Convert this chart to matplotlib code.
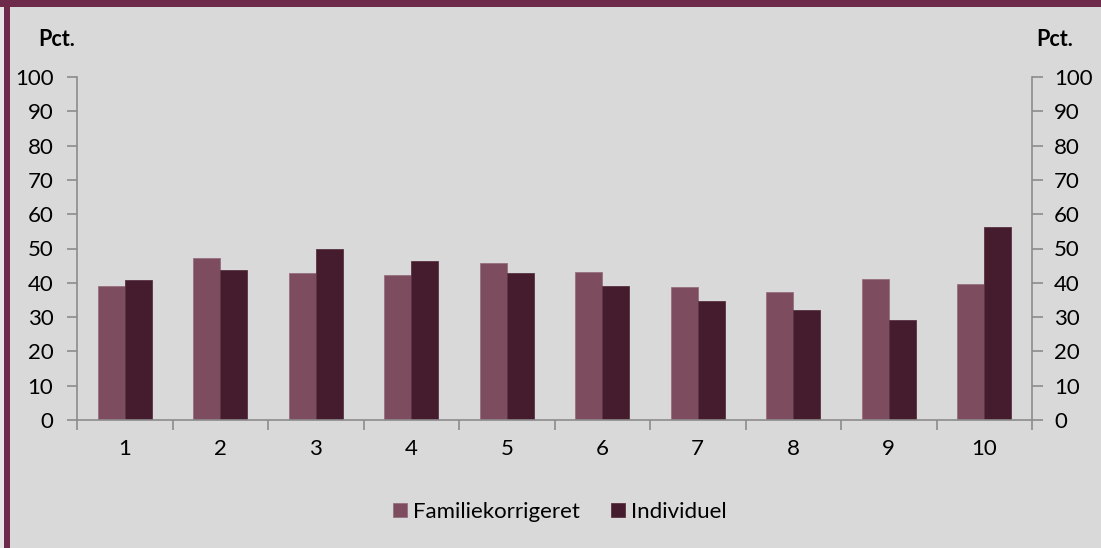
import numpy as np
import matplotlib.pyplot as plt
from matplotlib.patches import Rectangle

# data
deciles = ["1", "2", "3", "4", "5", "6", "7", "8", "9", "10"]
familiekorrigeret = [39.0, 47.3, 42.9, 42.3, 45.8, 43.2, 38.8, 37.3, 41.0, 39.7]
individuel = [40.9, 43.7, 49.9, 46.4, 42.8, 39.2, 34.7, 32.0, 29.1, 56.4]
y_ticks = list(range(0, 101, 10))

LIGHT = "#7E4C5F"
DARK = "#451C2D"
BORDER = "#6E2A4A"
BG = "#D9D9D9"
AXIS = "#8C8C8C"
FS = 16

plt.rcParams["font.family"] = ["Lato", "DejaVu Sans"]

W, H = 1101, 548
fig = plt.figure(figsize=(W / 100, H / 100), dpi=100)
fig.patch.set_facecolor(BG)

# maroon frame on top and left
fig.patches.append(Rectangle((0, 1 - 7 / H), 1, 7 / H, transform=fig.transFigure,
                             facecolor=BORDER, edgecolor="none", zorder=0))
fig.patches.append(Rectangle((4 / W, 0), 6 / W, 1, transform=fig.transFigure,
                             facecolor=BORDER, edgecolor="none", zorder=0))
fig.patches.append(Rectangle((0, 0), 4 / W, 1 - 7 / H, transform=fig.transFigure,
                             facecolor="#E6E6E6", edgecolor="none", zorder=0))

ax = fig.add_axes([77 / W, (H - 420) / H, 955 / W, 343 / H])
ax.set_facecolor(BG)

x = np.arange(1, len(deciles) + 1)
bw = 0.283
ax.bar(x - bw / 2, familiekorrigeret, width=bw, color=LIGHT,
       edgecolor="#96707F", linewidth=0.6, label="Familiekorrigeret", zorder=2)
ax.bar(x + bw / 2, individuel, width=bw, color=DARK,
       edgecolor="#5A3343", linewidth=0.6, label="Individuel", zorder=2)

ax.set_xlim(0.5, len(deciles) + 0.5)
ax.set_ylim(0, 100)
ax.set_yticks(y_ticks)
ax.set_xticks(x)
ax.set_xticklabels(deciles)
ax.set_xticks(np.arange(0.5, len(deciles) + 1), minor=True)

for s in ["top", "right"]:
    ax.spines[s].set_visible(False)
for s in ["left", "bottom"]:
    ax.spines[s].set_color(AXIS)
    ax.spines[s].set_linewidth(1.2)

ax.tick_params(axis="x", which="major", length=0, pad=14, labelsize=FS)
ax.tick_params(axis="x", which="minor", length=7, width=1.2, color=AXIS)
ax.tick_params(axis="y", length=7, width=1.2, color=AXIS, pad=10, labelsize=FS)

ax2 = ax.twinx()
ax2.set_ylim(0, 100)
ax2.set_yticks(y_ticks)
for s in ["top", "left", "bottom"]:
    ax2.spines[s].set_visible(False)
ax2.spines["right"].set_color(AXIS)
ax2.spines["right"].set_linewidth(1.2)
ax2.tick_params(axis="y", length=8, width=1.2, color=AXIS, pad=8, labelsize=FS)

fig.text(38 / W, 1 - 40 / H, "Pct.", fontsize=15.5, fontweight="bold",
         ha="left", va="center")
fig.text(1036 / W, 1 - 40 / H, "Pct.", fontsize=15.5, fontweight="bold",
         ha="left", va="center")

fig.legend(loc="center", bbox_to_anchor=(560 / W, 1 - 512 / H), ncol=2,
           frameon=False, fontsize=16, handlelength=0.6, handleheight=0.6,
           handletextpad=0.3, columnspacing=1.4)

fig.savefig("out.png", dpi=100, facecolor=fig.get_facecolor())
